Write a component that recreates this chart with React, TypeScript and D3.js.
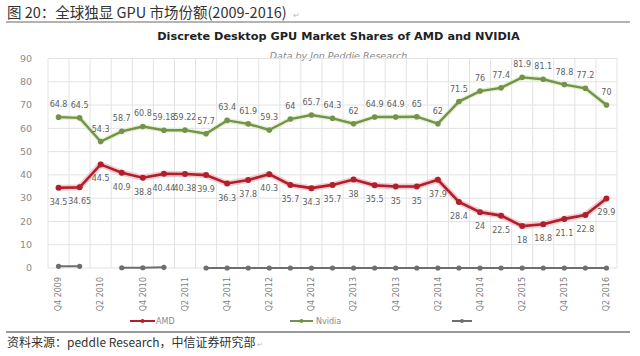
import React from "react";
import * as d3 from "d3";

const categories = [
  "Q4 2009",
  "Q1 2010", "Q2 2010", "Q3 2010", "Q4 2010",
  "Q1 2011", "Q2 2011", "Q3 2011", "Q4 2011",
  "Q1 2012", "Q2 2012", "Q3 2012", "Q4 2012",
  "Q1 2013", "Q2 2013", "Q3 2013", "Q4 2013",
  "Q1 2014", "Q2 2014", "Q3 2014", "Q4 2014",
  "Q1 2015", "Q2 2015", "Q3 2015", "Q4 2015",
  "Q1 2016", "Q2 2016",
];
const tickLabels = categories.filter((_, i) => i % 2 === 0);

const nvidia = [64.8, 64.5, 54.3, 58.7, 60.8, 59.18, 59.22, 57.7, 63.4, 61.9, 59.3, 64, 65.7, 64.3, 62, 64.9, 64.9, 65, 62, 71.5, 76, 77.4, 81.9, 81.1, 78.8, 77.2, 70];
const amd = [34.5, 34.65, 44.5, 40.9, 38.8, 40.44, 40.38, 39.9, 36.3, 37.8, 40.3, 35.7, 34.3, 35.7, 38, 35.5, 35, 35, 37.9, 28.4, 24, 22.5, 18, 18.8, 21.1, 22.8, 29.9];
const other: (number | null)[] = [0.7, 0.7, null, 0.1, 0.1, 0.3, null, 0, 0, 0, 0, 0, 0, 0, 0, 0, 0, 0, 0, 0, 0, 0, 0, 0, 0, 0, 0];
const yTicks = [0, 10, 20, 30, 40, 50, 60, 70, 80, 90];

const seriesNames = ["AMD", "Nvidia"];

const W = 640;
const H = 356;
const left = 48;
const right = 617;
const top = 58.5;
const bottom = 268;

export default function App() {
  const x = d3.scalePoint<string>().domain(categories).range([left, right]).padding(0.5);
  const step = x.step();
  const y = d3.scaleLinear().domain([0, 90]).range([bottom, top]);

  const line = d3
    .line<number | null>()
    .defined((d) => d !== null)
    .x((_, i) => x(categories[i]) as number)
    .y((d) => y(d as number));

  const fmt = (v: number) => String(v);

  const gridX = d3.range(categories.length + 1).map((i) => left + i * step);

  const amdColor = "#b01f2c";
  const nvColor = "#74924a";
  const otColor = "#6e6e6e";

  return (
    <svg
      width={W}
      height={H}
      style={{ position: "absolute", left: 0, top: 0, background: "#fff" }}
      fontFamily="'DejaVu Sans', Verdana, sans-serif"
    >
      <rect x={0} y={0} width={W} height={H} fill="#fff" />
      {/* header */}
      <text x={7} y={17.5} fontSize={14.5} fill="#333" fontFamily="'Noto Sans CJK SC', sans-serif">
        图 20：全球独显 GPU 市场份额(2009-2016)
        <tspan dx={6} fontSize={8} fill="#bbb">↵</tspan>
      </text>
      <line x1={6} x2={630} y1={22} y2={22} stroke="#9a9a9a" strokeWidth={1.6} />

      {/* chart title */}
      <text x={338.5} y={40} textAnchor="middle" fontSize={11.3} fontWeight="bold" fill="#222">
        Discrete Desktop GPU Market Shares of AMD and NVIDIA
      </text>
      <text x={338.5} y={59} textAnchor="middle" fontSize={9.5} fontStyle="italic" fill="#888">
        Data by Jon Peddie Research
      </text>

      {/* grid */}
      {yTicks.map((t) => (
        <line key={"gy" + t} x1={left} x2={right} y1={y(t)} y2={y(t)} stroke="#e3e3e3" strokeWidth={1} />
      ))}
      {gridX.map((gx, i) => (
        <line key={"gx" + i} x1={gx} x2={gx} y1={y(90)} y2={y(0)} stroke="#e3e3e3" strokeWidth={1} />
      ))}
      {yTicks.map((t) => (
        <text key={"yt" + t} x={32} y={y(t)} dy="0.35em" textAnchor="end" fontSize={9.5} fill="#8a8a8a">
          {t}
        </text>
      ))}
      {tickLabels.map((c) => (
        <text
          key={"xt" + c}
          transform={`translate(${x(c)},277) rotate(-90)`}
          textAnchor="end"
          dy="0.35em"
          fontSize={8}
          fill="#808080"
        >
          {c}
        </text>
      ))}

      {/* other series */}
      <path d={line(other) || ""} fill="none" stroke={otColor} strokeWidth={2} />
      {other.map((v, i) =>
        v === null ? null : <circle key={"o" + i} cx={x(categories[i])} cy={y(v)} r={2.6} fill={otColor} />
      )}

      {/* nvidia */}
      <path d={line(nvidia) || ""} fill="none" stroke="#d8ecc0" strokeWidth={5} strokeOpacity={0.7} />
      <path d={line(nvidia) || ""} fill="none" stroke={nvColor} strokeWidth={2.4} />
      {nvidia.map((v, i) => (
        <circle key={"n" + i} cx={x(categories[i])} cy={y(v)} r={2.8} fill={nvColor} />
      ))}
      {nvidia.map((v, i) => (
        <text key={"nl" + i} x={x(categories[i])} y={y(v) - 10} textAnchor="middle" fontSize={8} fill="#606060">
          {fmt(v)}
        </text>
      ))}

      {/* amd */}
      <path d={line(amd) || ""} fill="none" stroke="#f3b5ba" strokeWidth={6} strokeOpacity={0.7} />
      <path d={line(amd) || ""} fill="none" stroke={amdColor} strokeWidth={2.6} />
      {amd.map((v, i) => (
        <circle key={"a" + i} cx={x(categories[i])} cy={y(v)} r={3} fill={amdColor} />
      ))}
      {amd.map((v, i) => (
        <text key={"al" + i} x={x(categories[i])} y={y(v) + 17} textAnchor="middle" fontSize={8} fill="#606060">
          {fmt(v)}
        </text>
      ))}

      {/* legend */}
      <line x1={130} x2={155} y1={321} y2={321} stroke={amdColor} strokeWidth={2} />
      <circle cx={142.5} cy={321} r={2} fill={amdColor} />
      <text x={156} y={321} dy="0.35em" fontSize={8} fill="#8a8a8a">{seriesNames[0]}</text>
      <line x1={290} x2={313} y1={321} y2={321} stroke={nvColor} strokeWidth={2} />
      <circle cx={301.5} cy={321} r={2} fill={nvColor} />
      <text x={316} y={321} dy="0.35em" fontSize={8} fill="#8a8a8a">{seriesNames[1]}</text>
      <line x1={452} x2={472} y1={321} y2={321} stroke={otColor} strokeWidth={2} />
      <circle cx={462} cy={321} r={2} fill={otColor} />

      {/* footer */}
      <line x1={6} x2={630} y1={332} y2={332} stroke="#777" strokeWidth={1.4} />
      <text x={7} y={347} fontSize={12} fill="#333" fontFamily="'Noto Sans CJK SC', sans-serif">
        资料来源：peddle Research，中信证券研究部
        <tspan dx={1} fontSize={7} fill="#bbb">↵</tspan>
      </text>
    </svg>
  );
}
